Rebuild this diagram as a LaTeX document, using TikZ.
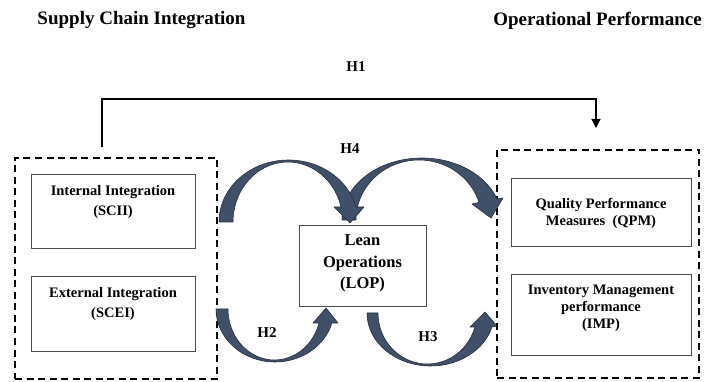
\documentclass[tikz,border=0pt]{standalone}
\usepackage{fontspec}
\setmainfont{Liberation Serif}
\usetikzlibrary{positioning, arrows.meta}
\definecolor{bandfill}{RGB}{64,80,104}
\definecolor{bandline}{RGB}{36,46,62}
\tikzset{
  group/.style={
    draw, line width=1.4pt,
    dash pattern=on 7pt off 4.5pt,
  },
  var/.style={
    minimum width=164pt,
    minimum height=74pt,
    draw=black!70, line width=0.8pt,
  },
  vartext/.style={
    align=center, inner sep=0pt,
    font=\fontsize{14.5}{20}\selectfont\bfseries,
  },
  heading/.style={
    inner sep=0pt,
    font=\fontsize{19}{22}\selectfont\bfseries,
  },
  hyp/.style={
    inner sep=0pt,
    font=\fontsize{15}{18}\selectfont\bfseries,
  },
  band/.style={
    fill=bandfill, draw=bandline,
    line width=0.6pt, line join=round,
  },
  link/.style={
    line width=1.3pt,
    -{Triangle[width=9pt,length=9pt]},
  },
}

\begin{document}
\begin{tikzpicture}[x=1pt, y=-1pt]
\useasboundingbox (0,0) rectangle (705,382);

\node[heading] (sci) at (141.5,20) {Supply Chain Integration};
\node[heading] (opf) at (597.5,21) {Operational Performance};

\node[group, minimum width=202pt, minimum height=221pt] (scig) at (116,268.5) {};
\node[group, minimum width=202pt, minimum height=228pt] (opg) at (598,264) {};

\node[var] (scii) at (113,211) {};
\node[var, minimum height=75pt] (scei) at (113,313.5) {};
\node[var, minimum width=180pt, minimum height=68pt] (qpm) at (601,212) {};
\node[var, minimum width=180pt, minimum height=81pt] (imp) at (601,314.5) {};
\node[var, minimum width=127pt, minimum height=81pt] (lop) at (362.5,265.5) {};

\node[vartext, below=12pt of scii.north] (sciit) {Internal Integration\\(SCII)};
\node[vartext, below=12pt of scei.north] (sceit) {External Integration\\(SCEI)};
\node[vartext, below=20pt of qpm.north, font=\fontsize{14.5}{17}\selectfont\bfseries]
  (qpmt) {Quality Performance\\Measures~~(QPM)};
\node[vartext, below=11pt of imp.north, font=\fontsize{14.5}{17}\selectfont\bfseries]
  (impt) {Inventory Management\\performance\\(IMP)};
\node[vartext, below=10pt of lop.north, font=\fontsize{16.5}{21.5}\selectfont\bfseries]
  (lopt) {Lean\\Operations\\(LOP)};

\foreach \lbl/\x/\y in {H1/356/67, H4/350/149, H2/267/333, H3/428/337}
  \node[hyp] (\lbl) at (\x,\y) {\lbl};

\coordinate (h1s) at (102,147);
\coordinate (h1e) at (596,128);
\draw[link] (h1s) -- ++(0,-48) -| (h1e);

\draw[band] (342,220) arc[start angle=180, end angle=340.2, x radius=79.9, y radius=62]
  -- (503,198) -- (491,218) -- (472,204)
  -- ([shift={(343:62.9 and 60)}]418.9,220)
  arc[start angle=343, end angle=180, x radius=62.9, y radius=60] -- cycle;
\draw[band] (219,222) arc[start angle=180, end angle=346, x radius=69.5, y radius=62]
  -- (364,207) -- (350,223) -- (334,207)
  -- ([shift={(345.5:54.9 and 60)}]287.9,222)
  arc[start angle=345.5, end angle=180, x radius=54.9, y radius=60] -- cycle;
\draw[band] (216,309) arc[start angle=180, end angle=15.3, x radius=59, y radius=53]
  -- (338,323) -- (326,308) -- (313,323)
  -- ([shift={(15.9:46.4 and 51)}]274.4,309)
  arc[start angle=15.9, end angle=180, x radius=46.4, y radius=51] -- cycle;
\draw[band] (367,313) arc[start angle=180, end angle=15.3, x radius=63.6, y radius=53]
  -- (497,326) -- (485,312) -- (470,327)
  -- ([shift={(15.9:49.4 and 51)}]427.4,313)
  arc[start angle=15.9, end angle=180, x radius=49.4, y radius=51] -- cycle;
\end{tikzpicture}
\end{document}
